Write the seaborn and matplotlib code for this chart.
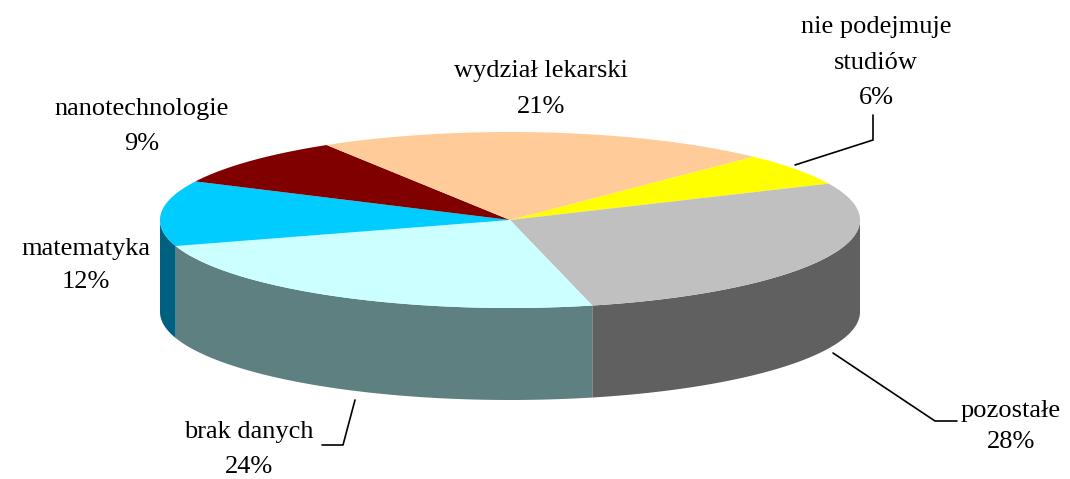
import numpy as np
import matplotlib
matplotlib.use("Agg")
import matplotlib.pyplot as plt
import seaborn as sns

# ---- data ----
categories = ["nie podejmuje\nstudiów", "pozostałe", "brak danych",
              "matematyka", "nanotechnologie", "wydział lekarski"]
percent = [6, 28, 24, 12, 9, 21]
top_colors = ["#FFFF00", "#C0C0C0", "#CCFFFF", "#00CCFF", "#800000", "#FFCC99"]
side_colors = ["#808000", "#606060", "#5F8080", "#006080", "#400000", "#806650"]

# ---- layout ----
sns.set_theme(style="white")
plt.rcParams["font.family"] = ["Liberation Serif", "DejaVu Serif"]

W, H = 1070, 479
fig = plt.figure(figsize=(W / 100, H / 100), dpi=100)
ax = fig.add_axes([0, 0, 1, 1])
ax.set_xlim(0, W)
ax.set_ylim(H, 0)
ax.axis("off")

cx, cy, rx, ry, depth = 510, 220, 350, 88, 92
start_angle = 46.0


def ell(theta_deg, dy=0.0):
    t = np.radians(theta_deg)
    return cx + rx * np.cos(t), cy - ry * np.sin(t) + dy


vals = np.array(percent, dtype=float)
spans = vals / vals.sum() * 360.0
bounds = start_angle - np.concatenate([[0], np.cumsum(spans)])

# side walls (front half only: angles in (-180, 0) modulo 360)
for i in range(len(vals)):
    a_hi, a_lo = bounds[i], bounds[i + 1]
    for shift in (0, 360, -360):
        hi = min(a_hi + shift, 0.0)
        lo = max(a_lo + shift, -180.0)
        if hi > lo:
            th = np.linspace(hi, lo, 80)
            xt, yt = ell(th)
            xb, yb = ell(th[::-1], depth)
            ax.fill(np.concatenate([xt, xb]), np.concatenate([yt, yb]),
                    color=side_colors[i], lw=0, zorder=1)

# top face
for i in range(len(vals)):
    th = np.linspace(bounds[i], bounds[i + 1], 120)
    xs, ys = ell(th)
    ax.fill(np.concatenate([[cx], xs]), np.concatenate([[cy], ys]),
            color=top_colors[i], lw=0, zorder=2)

# labels (x center, first baseline, line pitch)
label_pos = [(876, 33, 35.5), (1011, 417, 31), (249, 438, 35),
             (86, 255, 33), (142, 115, 35), (541, 77, 36)]
for name, p, (lx, ly, pitch) in zip(categories, percent, label_pos):
    lines = name.split("\n") + [f"{p}%"]
    for k, line in enumerate(lines):
        ax.text(lx, ly + k * pitch, line, ha="center", va="baseline",
                fontsize=19, color="black", zorder=5)

# leader lines
leaders = [
    [(795, 165), (873, 140), (873, 115)],
    [(833, 353), (935, 421), (957, 421)],
    [(355, 400), (343, 445), (322, 445)],
]
for pts in leaders:
    xs, ys = zip(*pts)
    ax.plot(xs, ys, color="black", lw=1.2, zorder=4)

fig.savefig("out.png", dpi=100)
